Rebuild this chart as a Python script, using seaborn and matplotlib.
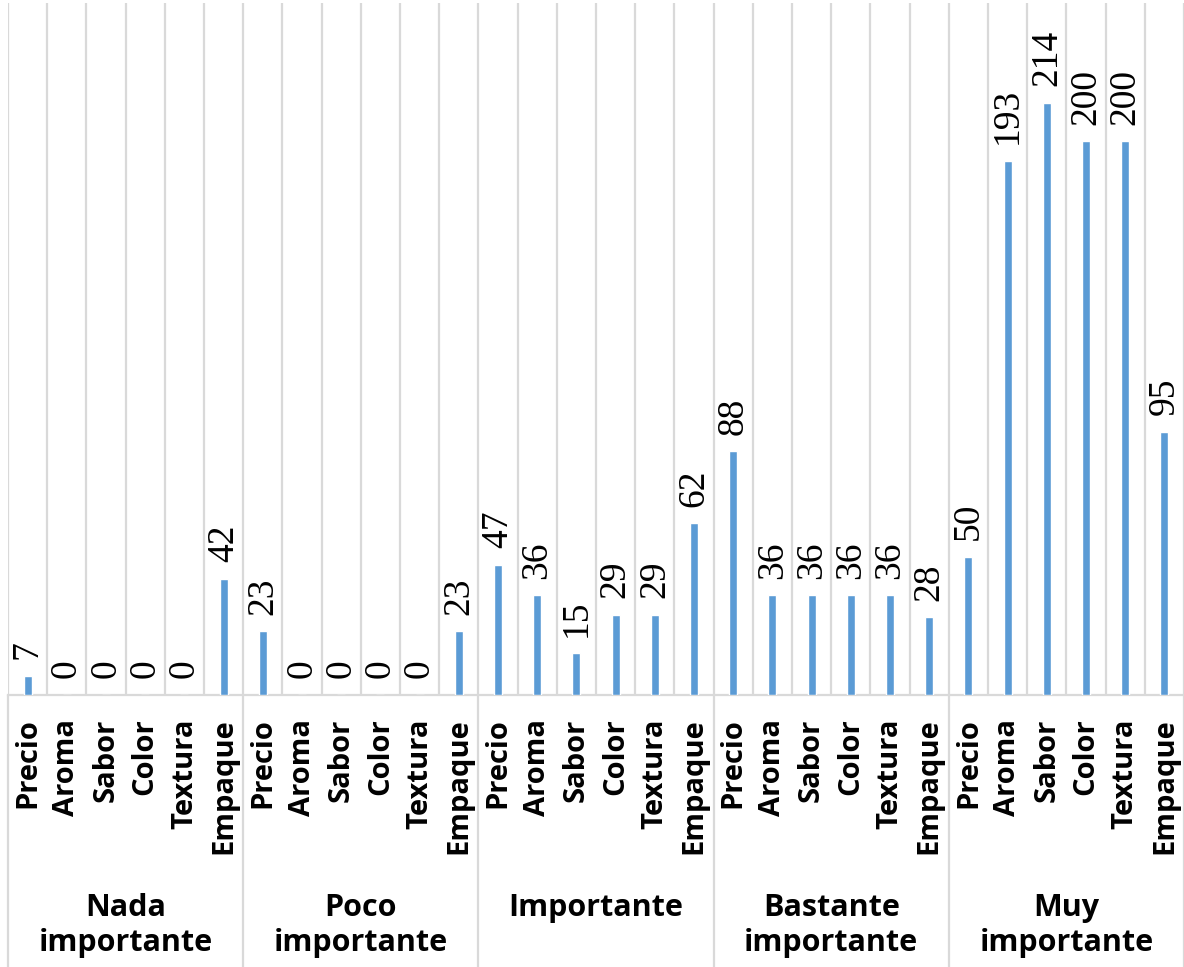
import matplotlib
matplotlib.use("Agg")
import matplotlib.pyplot as plt
import seaborn as sns
import pandas as pd
import numpy as np

groups = ["Nada\nimportante", "Poco\nimportante", "Importante", "Bastante\nimportante", "Muy\nimportante"]
attributes = ["Precio", "Aroma", "Sabor", "Color", "Textura", "Empaque"]
nada = [7, 0, 0, 0, 0, 42]
poco = [23, 0, 0, 0, 0, 23]
importante = [47, 36, 15, 29, 29, 62]
bastante = [88, 36, 36, 36, 36, 28]
muy = [50, 193, 214, 200, 200, 95]

series = [nada, poco, importante, bastante, muy]
rows = []
for g, vals in zip(groups, series):
    for a, v in zip(attributes, vals):
        rows.append({"group": g, "attr": a, "value": v})
df = pd.DataFrame(rows)
df["slot"] = [str(i) for i in range(len(df))]

sns.set_theme(style="white")
plt.rcParams["font.family"] = ["Open Sans", "DejaVu Sans"]

W, H = 1184, 967
fig = plt.figure(figsize=(W / 100, H / 100), dpi=100)
left = 8 / W
slot_w = 39.2
right_px = 8 + slot_w * 30
bottom_px = 695
top_px = 3
ax = fig.add_axes([left, 1 - bottom_px / H, (right_px - 8) / W, (bottom_px - top_px) / H])

blue = "#5B9BD5"
grid_c = "#D9D9D9"
sns.barplot(data=df, x="slot", y="value", order=list(df["slot"]), color=blue,
            width=0.2, saturation=1, ax=ax, zorder=3)

n = len(df)
ax.set_xlim(-0.5, n - 0.5)
ax.set_ylim(0, 250)
ax.set_yticks([])
ax.set_ylabel("")
ax.set_xlabel("")

# vertical gridlines at slot boundaries
for i in range(n + 1):
    ax.axvline(i - 0.5, color=grid_c, lw=1.6, zorder=1)
# group separators extending into label area
axh = bottom_px - top_px
bottom_frac = -(H - bottom_px) / axh
for k in range(len(groups) + 1):
    ax.plot([k * 6 - 0.5, k * 6 - 0.5], [0, bottom_frac], transform=ax.get_xaxis_transform(),
            color=grid_c, lw=1.6, clip_on=False, zorder=1)

for s in ["top", "left", "right"]:
    ax.spines[s].set_visible(False)
ax.spines["bottom"].set_color(grid_c)
ax.spines["bottom"].set_linewidth(1.6)

ax.set_xticks(range(n))
ax.set_xticklabels(list(df["attr"]), rotation=90, fontsize=21, fontweight="bold",
                   color="black", va="top", ha="center")
ax.tick_params(axis="x", length=0, pad=17)

# value labels
for i, v in enumerate(df["value"]):
    ax.annotate(str(v), (i, v), xytext=(0, 12), textcoords="offset points",
                rotation=90, ha="center", va="bottom", fontsize=27,
                family=["Liberation Serif", "DejaVu Serif"], color="black")

# group labels
for k, g in enumerate(groups):
    ax.text(k * 6 + 2.5, -(893 - bottom_px) / axh, g,
            transform=ax.get_xaxis_transform(), ha="center", va="top",
            fontsize=22, fontweight="bold", linespacing=1.2, color="black")

fig.savefig("out.png", dpi=100)
